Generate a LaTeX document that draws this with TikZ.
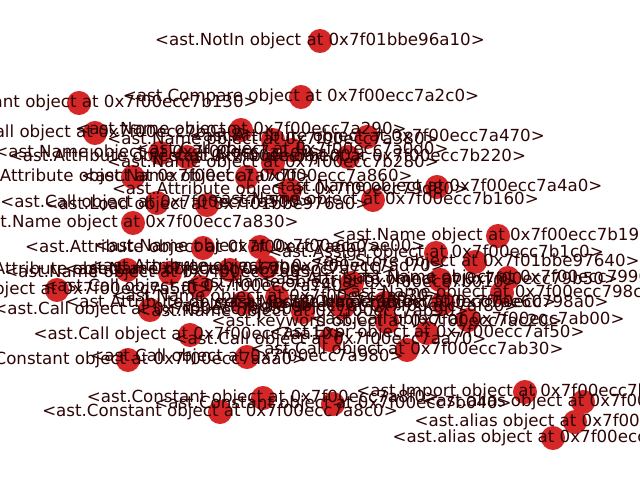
\documentclass[tikz,border=0pt]{standalone}
\usepackage{fontspec}
\setmainfont{DejaVu Sans}
\pgfdeclarelayer{bg}
\pgfsetlayers{bg,main}
\definecolor{nodered}{HTML}{D62728}
\definecolor{lblcol}{RGB}{45,5,5}
\tikzset{
  dot/.style={circle,fill=nodered,draw=none,minimum size=17.32pt,inner sep=0pt},
  lbl/.style={inner sep=0pt,text=lblcol,font=\fontsize{12}{14}\selectfont,anchor=center},
  edge/.style={draw=black,line width=1pt}
}
\begin{document}
\begin{tikzpicture}[x=0.72pt,y=-0.72pt]
\useasboundingbox (0,0) rectangle (640,480);
\clip (0,0) rectangle (640,480);
\fill[white] (0,0) rectangle (640,480);
% nodes
\node[dot] (n1) at (320,41) {};
\node[dot] (n2) at (301,97) {};
\node[dot] (n3) at (79,103) {};
\node[dot] (n4) at (241,130) {};
\node[dot] (n5) at (367,137) {};
\node[dot] (n6) at (348,157) {};
\node[dot] (n7) at (273,163) {};
\node[dot] (n8) at (292,150) {};
\node[dot] (n9) at (95,133) {};
\node[dot] (n10) at (160,153) {};
\node[dot] (n11) at (187,157) {};
\node[dot] (n12) at (133,177) {};
\node[dot] (n13) at (157,203) {};
\node[dot] (n14) at (133,223) {};
\node[dot] (n15) at (207,205) {};
\node[dot] (n16) at (247,177) {};
\node[dot] (n17) at (290,190) {};
\node[dot] (n18) at (373,200) {};
\node[dot] (n19) at (437,187) {};
\node[dot] (n20) at (498,236) {};
\node[dot] (n21) at (436,253) {};
\node[dot] (n22) at (475,262) {};
\node[dot] (n23) at (508,278) {};
\node[dot] (n24) at (440,280) {};
\node[dot] (n25) at (502,293) {};
\node[dot] (n26) at (443,303) {};
\node[dot] (n27) at (468,320) {};
\node[dot] (n28) at (427,333) {};
\node[dot] (n29) at (407,350) {};
\node[dot] (n30) at (525,392) {};
\node[dot] (n31) at (583,402) {};
\node[dot] (n32) at (575,422) {};
\node[dot] (n33) at (553,438) {};
\node[dot] (n34) at (128,360) {};
\node[dot] (n35) at (263,398) {};
\node[dot] (n36) at (220,412) {};
\node[dot] (n37) at (247,357) {};
\node[dot] (n38) at (333,404) {};
\node[dot] (n39) at (57,290) {};
\node[dot] (n40) at (127,270) {};
\node[dot] (n41) at (170,273) {};
\node[dot] (n42) at (203,248) {};
\node[dot] (n43) at (230,270) {};
\node[dot] (n44) at (267,267) {};
\node[dot] (n45) at (200,287) {};
\node[dot] (n46) at (277,297) {};
\node[dot] (n47) at (243,303) {};
\node[dot] (n48) at (150,310) {};
\node[dot] (n49) at (190,335) {};
\node[dot] (n50) at (330,340) {};
\node[dot] (n51) at (303,312) {};
\node[dot] (n52) at (385,303) {};
\node[dot] (n53) at (387,322) {};
\node[dot] (n54) at (260,247) {};
\node[dot] (n55) at (273,140) {};
\node[dot] (n56) at (343,307) {};
\node[dot] (n57) at (352,283) {};
% edges
\begin{pgfonlayer}{bg}
\path[edge] (n1)--(n2) (n2)--(n4) (n2)--(n55) (n2)--(n7) (n2)--(n19)
 (n3)--(n10)
 (n15)--(n10) (n15)--(n11) (n15)--(n12) (n15)--(n13) (n15)--(n16) (n15)--(n17)
 (n15)--(n42) (n15)--(n43) (n15)--(n44) (n15)--(n41) (n15)--(n54) (n15)--(n7) (n15)--(n55)
 (n9)--(n12) (n13)--(n14) (n14)--(n40) (n12)--(n40) (n40)--(n39) (n40)--(n48)
 (n41)--(n45) (n45)--(n49) (n49)--(n34) (n45)--(n47) (n47)--(n37) (n37)--(n35) (n37)--(n36)
 (n50)--(n38) (n51)--(n50) (n46)--(n51) (n44)--(n46) (n5)--(n6) (n6)--(n18) (n6)--(n7)
 (n8)--(n5) (n17)--(n8) (n18)--(n21) (n21)--(n20) (n19)--(n22) (n22)--(n23) (n22)--(n25)
 (n22)--(n26) (n24)--(n23) (n24)--(n25) (n52)--(n24) (n52)--(n21) (n52)--(n27) (n27)--(n28)
 (n28)--(n53) (n53)--(n26) (n52)--(n30) (n30)--(n31) (n30)--(n32) (n30)--(n33)
 (n29)--(n27) (n29)--(n50) (n43)--(n47) (n42)--(n43) (n56)--(n52) (n57)--(n21) (n57)--(n56)
 (n17)--(n57) (n11)--(n4);
\end{pgfonlayer}
% labels
\node[lbl] at (n1) {<ast.NotIn object at 0x7f01bbe96a10>};
\node[lbl] at (n2) {<ast.Compare object at 0x7f00ecc7a2c0>};
\node[lbl] at (n3) {<ast.Constant object at 0x7f00ecc7b130>};
\node[lbl] at (n4) {<ast.Name object at 0x7f00ecc7a290>};
\node[lbl] at (n5) {<ast.Attribute object at 0x7f00ecc7a470>};
\node[lbl] at (n6) {<ast.Attribute object at 0x7f00ecc7b220>};
\node[lbl] at (n7) {<ast.Name object at 0x7f00ecc7b280>};
\node[lbl] at (n8) {<ast.Call object at 0x7f00ecc7a0d0>};
\node[lbl] at (n9) {<ast.Call object at 0x7f00ecc7b0a0>};
\node[lbl] at (n10) {<ast.Name object at 0x7f00ecc7a1d0>};
\node[lbl] at (n11) {<ast.Attribute object at 0x7f00ecc7b100>};
\node[lbl] at (n12) {<ast.Attribute object at 0x7f00ecc7a7d0>};
\node[lbl] at (n13) {<ast.Call object at 0x7f00ecc7a500>};
\node[lbl] at (n14) {<ast.Name object at 0x7f00ecc7a830>};
\node[lbl] at (n15) {<ast.Load object at 0x7f01bbe976a0>};
\node[lbl] at (n16) {<ast.Name object at 0x7f00ecc7a860>};
\node[lbl] at (n17) {<ast.Attribute object at 0x7f00ecc79d80>};
\node[lbl] at (n18) {<ast.Name object at 0x7f00ecc7b160>};
\node[lbl] at (n19) {<ast.Name object at 0x7f00ecc7a4a0>};
\node[lbl] at (n20) {<ast.Name object at 0x7f00ecc7b190>};
\node[lbl] at (n21) {<ast.Assign object at 0x7f00ecc7b1c0>};
\node[lbl] at (n22) {<ast.Store object at 0x7f01bbe97640>};
\node[lbl] at (n23) {<ast.Name object at 0x7f00ecc79900>};
\node[lbl] at (n24) {<ast.Attribute object at 0x7f00ecc79b50>};
\node[lbl] at (n25) {<ast.Name object at 0x7f00ecc798c0>};
\node[lbl] at (n26) {<ast.Name object at 0x7f00ecc798a0>};
\node[lbl] at (n27) {<ast.Call object at 0x7f00ecc7ab00>};
\node[lbl] at (n28) {<ast.Expr object at 0x7f00ecc7af50>};
\node[lbl] at (n29) {<ast.Call object at 0x7f00ecc7ab30>};
\node[lbl] at (n30) {<ast.Import object at 0x7f00ecc7b5e0>};
\node[lbl] at (n31) {<ast.alias object at 0x7f00ecc7b610>};
\node[lbl] at (n32) {<ast.alias object at 0x7f00ecc7b640>};
\node[lbl] at (n33) {<ast.alias object at 0x7f00ecc7b670>};
\node[lbl] at (n34) {<ast.Constant object at 0x7f00ecc7aaa0>};
\node[lbl] at (n35) {<ast.Constant object at 0x7f00ecc7a8f0>};
\node[lbl] at (n36) {<ast.Constant object at 0x7f00ecc7a8c0>};
\node[lbl] at (n37) {<ast.Call object at 0x7f00ecc7a980>};
\node[lbl] at (n38) {<ast.Constant object at 0x7f00ecc7b040>};
\node[lbl] at (n39) {<ast.Call object at 0x7f00ecc7a5f0>};
\node[lbl] at (n40) {<ast.Attribute object at 0x7f00ecc7a620>};
\node[lbl] at (n41) {<ast.Name object at 0x7f00ecc7a650>};
\node[lbl] at (n42) {<ast.Attribute object at 0x7f00ecc7a6b0>};
\node[lbl] at (n43) {<ast.Name object at 0x7f00ecc7a710>};
\node[lbl] at (n44) {<ast.Attribute object at 0x7f00ecc7ad70>};
\node[lbl] at (n45) {<ast.Call object at 0x7f00ecc7a740>};
\node[lbl] at (n46) {<ast.Name object at 0x7f00ecc7ae30>};
\node[lbl] at (n47) {<ast.Attribute object at 0x7f00ecc7a9e0>};
\node[lbl] at (n48) {<ast.Call object at 0x7f00ecc7a950>};
\node[lbl] at (n49) {<ast.Call object at 0x7f00ecc7aa10>};
\node[lbl] at (n50) {<ast.Call object at 0x7f00ecc7aa70>};
\node[lbl] at (n51) {<ast.Name object at 0x7f00ecc7ab90>};
\node[lbl] at (n52) {<ast.Module object at 0x7f00ecc7ae60>};
\node[lbl] at (n53) {<ast.keyword object at 0x7f00ecc7ac20>};
\node[lbl] at (n54) {<ast.Name object at 0x7f00ecc7ae00>};
\node[lbl] at (n55) {<ast.Name object at 0x7f00ecc7a380>};
\node[lbl] at (n56) {<ast.Attribute object at 0x7f00ecc7af80>};
\node[lbl] at (n57) {<ast.Name object at 0x7f00ecc7b010>};
\end{tikzpicture}
\end{document}
